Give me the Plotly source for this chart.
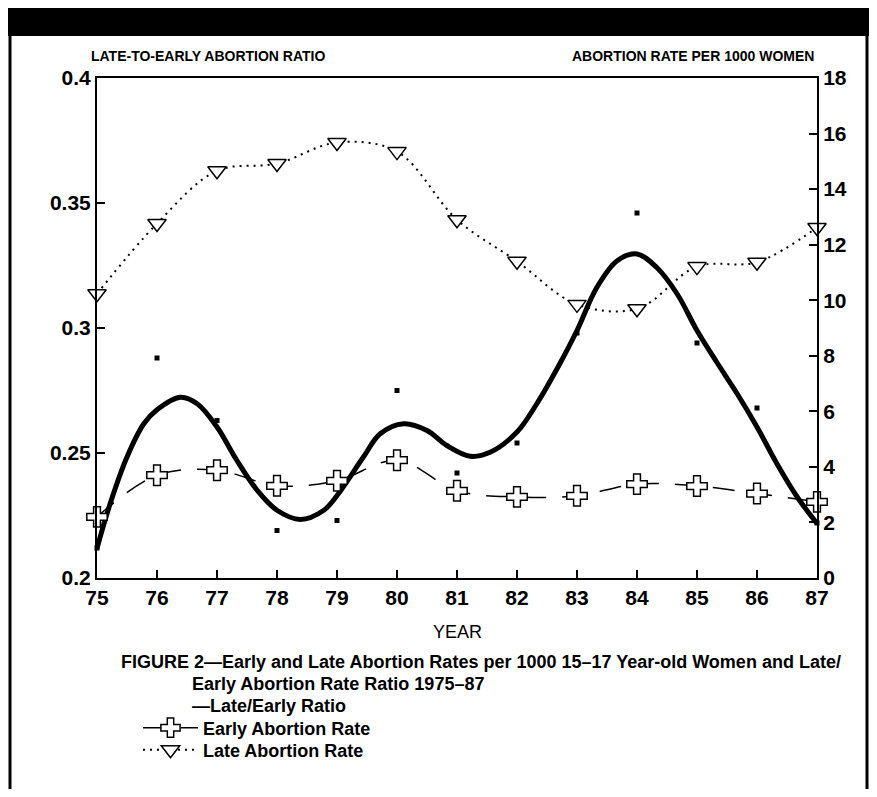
import plotly.graph_objects as go

# ---------------- data ----------------
years = [75, 76, 77, 78, 79, 80, 81, 82, 83, 84, 85, 86, 87]
year_labels = ["75", "76", "77", "78", "79", "80", "81", "82", "83", "84", "85", "86", "87"]

# late/early ratio, observed points (left axis)
ratio_points = [0.212, 0.288, 0.263, 0.219, 0.223, 0.275, 0.242, 0.254, 0.298, 0.346, 0.294, 0.268, 0.222]

# smoothed late/early ratio curve (left axis)
ratio_trend_year = [75.0, 75.22, 75.5, 75.78, 76.0, 76.39, 76.67, 77.0, 77.33, 77.67, 78.0, 78.39,
                    78.78, 79.0, 79.44, 79.72, 80.11, 80.5, 80.83, 81.22, 81.56, 82.0, 82.33, 82.72,
                    83.0, 83.33, 83.67, 84.0, 84.33, 84.67, 85.0, 85.33, 85.67, 86.0, 86.33, 86.67, 87.0]
ratio_trend = [0.2119, 0.2298, 0.2484, 0.2617, 0.2673, 0.2723, 0.2697, 0.2604, 0.2471, 0.2351, 0.2271, 0.2234,
               0.2271, 0.2330, 0.2484, 0.2577, 0.2617, 0.2590, 0.2530, 0.2487, 0.2504, 0.2584, 0.2697, 0.2860,
               0.2990, 0.3162, 0.3269, 0.3296, 0.3242, 0.3136, 0.2990, 0.2863, 0.2737, 0.2604, 0.2458, 0.2324, 0.2218]

# abortion rates per 1000 women (right axis)
early_rate = [2.20, 3.70, 3.88, 3.32, 3.50, 4.24, 3.14, 2.92, 2.96, 3.38, 3.31, 3.04, 2.74]
late_rate = [10.23, 12.76, 14.66, 14.92, 15.68, 15.35, 12.90, 11.40, 9.85, 9.69, 11.21, 11.37, 12.62]

left_ticks = [0.2, 0.25, 0.3, 0.35, 0.4]
left_ticktext = ["0.2", "0.25", "0.3", "0.35", "0.4"]
right_ticks = [0, 2, 4, 6, 8, 10, 12, 14, 16, 18]

# ---------------- layout geometry (page pixels; page body has an 8px margin) ----------------
OFF = 8
W, H = 877 - 2 * OFF, 797 - 2 * OFF
L, R, T, B = 97, 817, 78, 578          # plot area in page pixels


def px(x):
    return (x - L) / (R - L)


def py(y):
    return (B - y) / (B - T)


tick_font = dict(family="Liberation Sans, Arial, sans-serif", size=21, color="black", weight="bold")
cap_font = dict(family="Liberation Sans, Arial, sans-serif", size=18, color="black")

fig = go.Figure()

fig.add_trace(go.Scatter(
    x=ratio_trend_year, y=ratio_trend, mode="lines", yaxis="y",
    line=dict(color="black", width=5, shape="spline", smoothing=1.0),
    hoverinfo="skip", showlegend=False))

fig.add_trace(go.Scatter(
    x=years, y=ratio_points, mode="markers", yaxis="y", cliponaxis=False,
    marker=dict(symbol="square", size=5, color="black"),
    showlegend=False, name="Late/Early Ratio"))

fig.add_trace(go.Scatter(
    x=years, y=early_rate, mode="lines+markers", yaxis="y2", cliponaxis=False,
    line=dict(color="black", width=1.5, dash="22px,16px", shape="spline", smoothing=1.0),
    marker=dict(symbol="cross", size=17, color="white",
                line=dict(color="black", width=1.5)),
    showlegend=True, legend="legend", name="<b>Early Abortion Rate</b>"))

fig.add_trace(go.Scatter(
    x=years, y=late_rate, mode="lines+markers", yaxis="y2", cliponaxis=False,
    line=dict(color="black", width=2, dash="2px,5px", shape="spline", smoothing=1.0),
    marker=dict(symbol="triangle-down", size=16, color="white",
                line=dict(color="black", width=1.5)),
    showlegend=True, legend="legend2", name="<b>Late Abortion Rate</b>"))

axis_common = dict(showgrid=False, zeroline=False, showline=True, linecolor="black",
                   linewidth=2, ticks="inside", ticklen=8, tickwidth=1.5, tickcolor="black",
                   tickfont=tick_font)

legend_common = dict(xanchor="left", yanchor="middle", bgcolor="rgba(0,0,0,0)",
                     borderwidth=0, itemwidth=55, font=cap_font,
                     itemclick=False, itemdoubleclick=False)

fig.update_layout(
    width=W, height=H,
    margin=dict(l=L - OFF, r=(W + OFF) - R, t=T - OFF, b=(H + OFF) - B, pad=0),
    paper_bgcolor="white", plot_bgcolor="white",
    xaxis=dict(range=[75, 87], tickvals=years, ticktext=year_labels, mirror=True, **axis_common),
    yaxis=dict(range=[0.2, 0.4], tickvals=left_ticks, ticktext=left_ticktext, **axis_common),
    yaxis2=dict(range=[0, 18], tickvals=right_ticks, overlaying="y", side="right", **axis_common),
    legend=dict(x=px(138), y=py(728), **legend_common),
    legend2=dict(x=px(138), y=py(750), **legend_common),
)

shapes = [
    dict(type="rect", xref="paper", yref="paper", x0=px(0), x1=px(900), y0=py(0), y1=py(36),
         fillcolor="black", line=dict(width=0), layer="above"),
    dict(type="line", xref="paper", yref="paper", x0=px(10), x1=px(10), y0=py(30), y1=py(800),
         line=dict(color="black", width=3)),
    dict(type="line", xref="paper", yref="paper", x0=px(867), x1=px(867), y0=py(30), y1=py(800),
         line=dict(color="black", width=3)),
]
fig.update_layout(shapes=shapes)

small_font = dict(family="Liberation Sans Narrow, Liberation Sans, Arial, sans-serif", size=14, color="black")
annotations = [
    dict(text="<b>LATE-TO-EARLY ABORTION RATIO</b>", x=px(89), y=py(56), xanchor="left", yanchor="middle",
         font=small_font),
    dict(text="<b>ABORTION RATE PER 1000 WOMEN</b>", x=px(816), y=py(56), xanchor="right", yanchor="middle",
         font=small_font),
    dict(text="YEAR", x=px(457), y=py(632), xanchor="center", yanchor="middle",
         font=dict(family="Liberation Sans, Arial, sans-serif", size=18, color="black")),
    dict(text="<b>FIGURE 2—Early and Late Abortion Rates per 1000 15–17 Year-old Women and Late/</b>",
         x=px(119), y=py(662), xanchor="left", yanchor="middle", font=cap_font),
    dict(text="<b>Early Abortion Rate Ratio 1975–87</b>",
         x=px(190), y=py(684), xanchor="left", yanchor="middle", font=cap_font),
    dict(text="<b>—Late/Early Ratio</b>",
         x=px(190), y=py(706), xanchor="left", yanchor="middle", font=cap_font),
]
for a in annotations:
    a.update(xref="paper", yref="paper", showarrow=False)
fig.update_layout(annotations=annotations)

fig.write_html("out.html")
